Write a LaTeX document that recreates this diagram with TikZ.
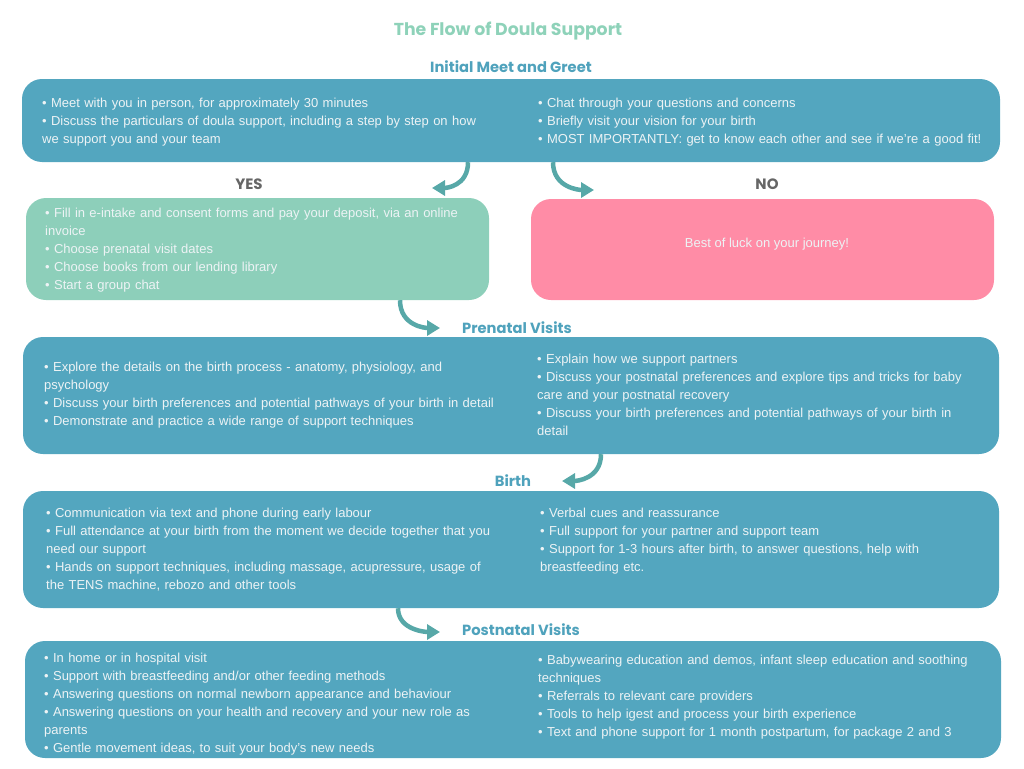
\documentclass[tikz,border=0pt]{standalone}
\usepackage{fontspec}
\setmainfont{Liberation Sans}
\newfontfamily\headfont{Poppins}
\usetikzlibrary{arrows.meta}
\definecolor{boxblue}{HTML}{53A6BF}
\definecolor{boxgreen}{HTML}{8DCFBA}
\definecolor{boxpink}{HTML}{FF8CA6}
\definecolor{headblue}{HTML}{4FA2BC}
\definecolor{titlegreen}{HTML}{8ED2B9}
\definecolor{arrowteal}{HTML}{57A8A8}
\definecolor{yesno}{HTML}{666666}
\definecolor{lighttxt}{HTML}{EDF3F5}
\newcommand{\Body}{\fontsize{13}{18}\selectfont}

\begin{document}
\begin{tikzpicture}[x=1pt,y=-1pt,
  stagebox/.style={rounded corners=20pt,inner sep=0pt},
  bluebox/.style={stagebox,fill=boxblue},
  items/.style={anchor=base west,inner sep=0pt,text width=470pt,align=left,
    text=lighttxt,font=\Body},
  stagehead/.style={text=headblue,font=\headfont\bfseries\fontsize{14.7}{16}\selectfont},
  choice/.style={text=yesno,font=\headfont\bfseries\fontsize{15}{16}\selectfont},
  flow/.style={draw=arrowteal,line width=4.5pt,
    -{Triangle[length=13pt,width=15pt]}}]
\useasboundingbox (0,0) rectangle (1024,768);

\node[text=titlegreen,font=\headfont\bfseries\fontsize{17.3}{20}\selectfont] (title) at (508,31.5) {The Flow of Doula Support};

\node[stagehead] (meethead) at (511,67) {Initial Meet and Greet};
\node[bluebox,minimum width=978pt,minimum height=83pt] (meet) at (511,120.5) {};
\node[items] (meet-l) at (42,107) {%
  • Meet with you in person, for approximately 30 minutes\\
  • Discuss the particulars of doula support, including a step by step on how\\
  we support you and your team};
\node[items] (meet-r) at (538,107) {%
  • Chat through your questions and concerns\\
  • Briefly visit your vision for your birth\\
  • MOST IMPORTANTLY: get to know each other and see if we're a good fit!};

\node[choice] (yes) at (249,184) {YES};
\node[choice] (no) at (767,184) {NO};

\node[stagebox,fill=boxgreen,minimum width=463pt,minimum height=102pt] (deposit) at (257.5,249) {};
\node[items] (deposit-l) at (45,217) {%
  • Fill in e-intake and consent forms and pay your deposit, via an online\\
  invoice\\
  • Choose prenatal visit dates\\
  • Choose books from our lending library\\
  • Start a group chat};

\node[stagebox,fill=boxpink,minimum width=463pt,minimum height=101pt] (luck) at (762.5,249.5) {};
\node[text=lighttxt,font=\Body,inner sep=0pt] (luck-t) at (767,244.5) {Best of luck on your journey!};

\node[stagehead] (prenatalhead) at (517,328) {Prenatal Visits};
\node[bluebox,minimum width=976pt,minimum height=117pt] (prenatal) at (511,395.5) {};
\node[items] (prenatal-l) at (44,371) {%
  • Explore the details on the birth process - anatomy, physiology, and\\
  psychology\\
  • Discuss your birth preferences and potential pathways of your birth in detail\\
  • Demonstrate and practice a wide range of support techniques};
\node[items] (prenatal-r) at (537,363) {%
  • Explain how we support partners\\
  • Discuss your postnatal preferences and explore tips and tricks for baby\\
  care and your postnatal recovery\\
  • Discuss your birth preferences and potential pathways of your birth in\\
  detail};

\node[stagehead] (birthhead) at (513,481) {Birth};
\node[bluebox,minimum width=976pt,minimum height=117pt] (birth) at (511,549.5) {};
\node[items] (birth-l) at (46,517) {%
  • Communication via text and phone during early labour\\
  • Full attendance at your birth from the moment we decide together that you\\
  need our support\\
  • Hands on support techniques, including massage, acupressure, usage of\\
  the TENS machine, rebozo and other tools};
\node[items] (birth-r) at (540,517) {%
  • Verbal cues and reassurance\\
  • Full support for your partner and support team\\
  • Support for 1-3 hours after birth, to answer questions, help with\\
  breastfeeding etc.};

\node[stagehead] (postnatalhead) at (521,630) {Postnatal Visits};
\node[bluebox,minimum width=976pt,minimum height=117pt] (postnatal) at (513,699.5) {};
\node[items] (postnatal-l) at (44,662) {%
  • In home or in hospital visit\\
  • Support with breastfeeding and/or other feeding methods\\
  • Answering questions on normal newborn appearance and behaviour\\
  • Answering questions on your health and recovery and your new role as\\
  parents\\
  • Gentle movement ideas, to suit your body's new needs};
\node[items] (postnatal-r) at (538,664) {%
  • Babywearing education and demos, infant sleep education and soothing\\
  techniques\\
  • Referrals to relevant care providers\\
  • Tools to help igest and process your birth experience\\
  • Text and phone support for 1 month postpartum, for package 2 and 3};

\coordinate (yes-end) at (432,188);
\coordinate (no-end) at (594,190);
\coordinate (prenatal-end) at (440,328);
\coordinate (birth-end) at (562,481);
\coordinate (postnatal-end) at (440,632);

\draw[flow] ([xshift=-43pt]meet.south) .. controls +(0,24) and +(14,0) .. (yes-end);
\draw[flow] ([xshift=42pt]meet.south) .. controls +(0,26) and +(-14,0) .. (no-end);
\draw[flow] ([xshift=142.5pt]deposit.south) .. controls +(0,26) and +(-14,0) .. (prenatal-end);
\draw[flow] ([xshift=90pt]prenatal.south) .. controls +(0,25) and +(14,0) .. (birth-end);
\draw[flow] ([xshift=-113pt]birth.south) .. controls +(0,22) and +(-14,0) .. (postnatal-end);
\end{tikzpicture}
\end{document}
